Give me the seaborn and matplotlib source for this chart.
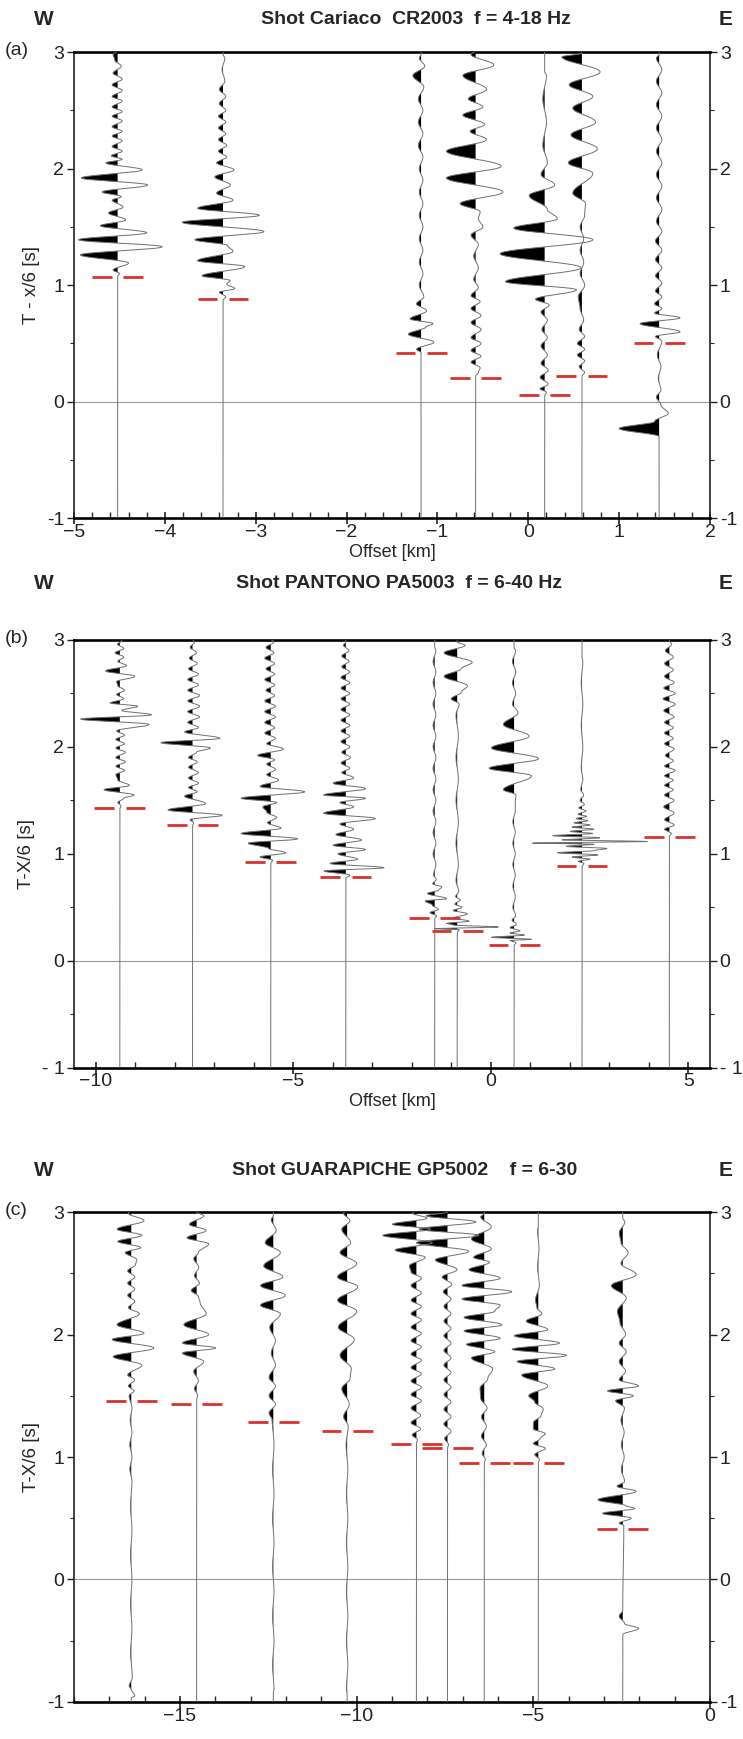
import numpy as np
import seaborn as sns
import matplotlib.pyplot as plt
from matplotlib.ticker import MultipleLocator, FixedLocator

# ---------------- data ----------------
# offsets (km), pick times (s), and lobe extrema (time s, amplitude km) per trace

offsets_a = [-4.52, -3.36, -1.18, -0.58, 0.18, 0.59, 1.44]
picks_a = [1.07, 0.88, 0.42, 0.20, 0.06, 0.22, 0.50]
traces_a = [
    [(1.10, 0.02), (1.13, -0.05), (1.19, 0.12), (1.26, -0.41), (1.33, 0.49), (1.39, -0.43), (1.45, 0.32),
     (1.51, -0.19), (1.56, 0.09), (1.62, -0.10), (1.67, 0.06), (1.73, -0.06), (1.76, 0.04), (1.80, -0.17),
     (1.86, 0.33), (1.92, -0.40), (1.99, 0.27), (2.05, -0.13), (2.08, 0.05), (2.11, -0.07), (2.15, 0.05),
     (2.19, -0.06), (2.24, 0.05), (2.28, -0.06), (2.32, 0.05), (2.36, -0.06), (2.41, 0.05), (2.45, -0.06),
     (2.49, 0.05), (2.53, -0.06), (2.58, 0.05), (2.62, -0.06), (2.67, 0.05), (2.72, -0.06), (2.77, 0.05),
     (2.82, -0.05), (2.88, 0.04), (2.93, -0.03), (2.98, -0.05)],
    [(0.90, 0.03), (0.94, -0.04), (0.97, 0.13), (1.01, 0.04), (1.04, 0.08), (1.08, -0.23), (1.16, 0.24),
     (1.21, -0.28), (1.29, 0.11), (1.34, 0.05), (1.39, -0.31), (1.46, 0.45), (1.54, -0.45), (1.60, 0.40),
     (1.66, -0.28), (1.73, 0.11), (1.79, -0.07), (1.86, 0.08), (1.93, -0.09), (1.99, 0.12), (2.05, -0.07),
     (2.10, 0.04), (2.15, -0.05), (2.20, 0.04), (2.25, -0.05), (2.30, 0.03), (2.35, -0.05), (2.40, 0.03),
     (2.45, -0.05), (2.50, 0.03), (2.56, -0.04), (2.62, 0.03), (2.68, -0.04), (2.75, 0.02), (2.85, -0.01),
     (2.95, 0.02)],
    [(0.45, -0.05), (0.51, 0.14), (0.58, -0.14), (0.64, 0.05), (0.67, 0.13), (0.71, -0.12), (0.78, 0.06),
     (0.84, -0.05), (0.90, 0.03), (1.0, -0.02), (1.1, 0.02), (1.2, -0.02), (1.3, 0.02), (1.4, -0.02),
     (1.5, 0.02), (1.6, -0.02), (1.7, 0.02), (1.8, -0.02), (1.9, 0.02), (2.0, -0.02), (2.1, 0.02),
     (2.2, -0.03), (2.3, 0.02), (2.4, -0.03), (2.5, 0.02), (2.6, -0.03), (2.7, 0.03), (2.80, -0.09),
     (2.88, 0.04), (2.95, -0.02)],
    [(0.25, 0.03), (0.29, 0.05), (0.34, -0.05), (0.39, 0.06), (0.44, -0.05), (0.50, 0.06), (0.55, -0.05),
     (0.62, 0.06), (0.68, -0.05), (0.74, 0.06), (0.80, -0.05), (0.86, 0.05), (0.91, -0.05), (0.98, 0.03),
     (1.05, -0.02), (1.15, 0.03), (1.25, -0.02), (1.35, 0.03), (1.43, -0.05), (1.50, 0.08), (1.57, 0.03),
     (1.63, 0.05), (1.70, -0.17), (1.80, 0.30), (1.92, -0.32), (2.02, 0.28), (2.15, -0.32), (2.25, 0.12),
     (2.32, -0.06), (2.38, 0.10), (2.46, -0.14), (2.53, 0.08), (2.60, -0.08), (2.68, 0.12), (2.80, -0.14),
     (2.89, 0.20), (2.98, -0.05)],
    [(0.08, 0.02), (0.11, -0.05), (0.15, 0.04), (0.21, -0.05), (0.27, 0.04), (0.33, -0.04), (0.40, 0.03),
     (0.48, -0.04), (0.55, 0.03), (0.62, -0.03), (0.70, 0.03), (0.77, -0.04), (0.83, 0.05), (0.88, -0.10),
     (0.96, 0.35), (1.03, -0.43), (1.15, 0.40), (1.27, -0.49), (1.39, 0.53), (1.49, -0.34), (1.57, 0.14),
     (1.65, 0.03), (1.77, -0.17), (1.86, 0.11), (1.95, -0.04), (2.05, 0.03), (2.2, -0.02), (2.4, 0.02),
     (2.6, -0.02), (2.8, 0.02)],
    [(0.25, 0.03), (0.30, -0.03), (0.35, 0.03), (0.40, -0.05), (0.45, 0.03), (0.50, -0.05), (0.56, 0.03),
     (0.62, -0.03), (0.70, 0.02), (0.80, -0.02), (0.90, -0.04), (1.0, 0.03), (1.1, -0.02), (1.2, 0.02),
     (1.3, -0.02), (1.4, 0.02), (1.5, -0.02), (1.6, 0.03), (1.70, 0.04), (1.79, -0.10), (1.96, 0.12),
     (2.05, -0.15), (2.17, 0.17), (2.29, -0.12), (2.40, 0.15), (2.52, -0.10), (2.62, 0.12), (2.72, -0.14),
     (2.83, 0.20), (2.96, -0.22)],
    [(-0.30, 0.0), (-0.23, -0.44), (-0.17, -0.05), (-0.10, 0.10), (-0.03, 0.02), (0.04, -0.03), (0.10, 0.02),
     (0.20, -0.01), (0.30, 0.02), (0.40, -0.02), (0.52, 0.03), (0.56, -0.04), (0.60, 0.23), (0.67, -0.21),
     (0.72, 0.23), (0.76, -0.05), (0.80, 0.03), (0.84, -0.05), (0.90, 0.03), (0.95, -0.04), (1.02, 0.03),
     (1.08, -0.04), (1.15, 0.03), (1.22, -0.04), (1.30, 0.03), (1.38, -0.04), (1.46, 0.03), (1.55, -0.03),
     (1.65, 0.03), (1.75, -0.03), (1.85, 0.03), (1.95, -0.03), (2.05, 0.03), (2.15, -0.03), (2.25, 0.03),
     (2.35, -0.03), (2.45, 0.03), (2.55, -0.03), (2.65, 0.03), (2.75, -0.03), (2.85, 0.03), (2.95, -0.03)],
]

offsets_b = [-9.39, -7.55, -5.57, -3.67, -1.42, -0.85, 0.59, 2.31, 4.52]
picks_b = [1.43, 1.27, 0.92, 0.78, 0.40, 0.28, 0.15, 0.89, 1.16]
traces_b = [
    [(1.45, 0.03), (1.48, -0.05), (1.52, 0.10), (1.55, 0.36), (1.60, -0.40), (1.64, 0.24), (1.69, -0.05),
     (1.74, -0.10), (1.78, 0.12), (1.82, -0.10), (1.86, 0.14), (1.90, -0.10), (1.95, 0.14), (1.99, -0.10),
     (2.03, 0.12), (2.07, -0.10), (2.11, 0.12), (2.15, -0.08), (2.21, 0.74), (2.26, -0.99), (2.30, 0.80),
     (2.34, 0.05), (2.38, 0.45), (2.41, -0.24), (2.45, 0.10), (2.49, -0.08), (2.53, 0.12), (2.57, -0.05),
     (2.61, -0.08), (2.66, 0.38), (2.71, -0.36), (2.76, 0.17), (2.80, -0.05), (2.84, 0.10), (2.88, -0.12),
     (2.92, 0.10), (2.96, -0.06), (2.99, 0.05)],
    [(1.29, 0.03), (1.32, -0.06), (1.36, 0.75), (1.41, -0.62), (1.47, 0.33), (1.54, -0.20), (1.58, 0.12),
     (1.62, -0.10), (1.66, 0.15), (1.71, -0.10), (1.76, 0.15), (1.81, -0.10), (1.86, 0.12), (1.90, -0.10),
     (1.95, 0.10), (1.99, 0.45), (2.04, -0.80), (2.08, 0.69), (2.14, -0.20), (2.18, 0.15), (2.23, -0.12),
     (2.28, 0.18), (2.33, -0.12), (2.38, 0.18), (2.43, -0.12), (2.48, 0.18), (2.53, -0.12), (2.58, 0.15),
     (2.63, -0.12), (2.68, 0.15), (2.73, -0.10), (2.78, 0.12), (2.83, -0.08), (2.88, 0.10), (2.93, -0.06),
     (2.98, 0.05)],
    [(0.94, 0.05), (0.97, -0.27), (1.01, 0.38), (1.05, -0.05), (1.10, -0.57), (1.14, 0.68), (1.19, -0.75),
     (1.24, 0.26), (1.29, -0.08), (1.34, 0.15), (1.39, -0.10), (1.44, -0.20), (1.48, 0.15), (1.52, -0.75),
     (1.58, 0.86), (1.63, -0.27), (1.69, 0.20), (1.74, -0.10), (1.79, 0.12), (1.84, -0.10), (1.88, 0.10),
     (1.92, -0.33), (1.98, 0.32), (2.03, -0.10), (2.08, 0.12), (2.13, -0.15), (2.18, 0.10), (2.23, -0.15),
     (2.28, 0.12), (2.33, -0.15), (2.38, 0.12), (2.43, -0.15), (2.48, 0.10), (2.53, -0.12), (2.58, 0.10),
     (2.63, -0.15), (2.68, 0.10), (2.73, -0.12), (2.78, 0.10), (2.83, -0.15), (2.88, 0.08), (2.93, -0.12),
     (2.98, 0.08)],
    [(0.80, 0.10), (0.84, -0.55), (0.87, 0.97), (0.91, -0.40), (0.95, 0.30), (1.00, -0.20), (1.04, 0.50),
     (1.08, -0.32), (1.13, 0.40), (1.18, -0.25), (1.23, 0.20), (1.28, -0.15), (1.33, 0.75), (1.38, -0.56),
     (1.44, 0.20), (1.48, -0.15), (1.52, 0.50), (1.55, -0.56), (1.61, 0.50), (1.66, -0.32), (1.71, 0.20),
     (1.76, -0.10), (1.80, 0.10), (1.85, -0.12), (1.90, 0.12), (1.95, -0.10), (2.00, 0.10), (2.05, -0.12),
     (2.10, 0.10), (2.15, -0.12), (2.20, 0.10), (2.25, -0.12), (2.30, 0.10), (2.35, -0.12), (2.40, 0.10),
     (2.45, -0.12), (2.50, 0.10), (2.55, -0.12), (2.60, 0.10), (2.65, -0.12), (2.70, 0.10), (2.75, -0.10),
     (2.80, 0.08), (2.85, -0.10), (2.90, 0.08), (2.95, -0.06)],
    [(0.42, 0.05), (0.45, -0.12), (0.48, 0.10), (0.52, -0.06), (0.56, -0.24), (0.58, 0.30), (0.63, -0.18),
     (0.66, 0.10), (0.69, 0.18), (0.72, -0.05), (0.76, 0.04), (0.80, -0.03), (0.9, 0.03), (1.0, -0.04),
     (1.1, 0.03), (1.2, -0.04), (1.3, 0.03), (1.4, -0.04), (1.5, 0.03), (1.6, -0.04), (1.7, 0.03),
     (1.8, -0.04), (1.9, 0.03), (2.0, -0.04), (2.1, 0.03), (2.2, -0.04), (2.3, 0.03), (2.4, -0.04),
     (2.5, 0.03), (2.6, -0.04), (2.7, 0.03), (2.8, -0.04), (2.9, 0.03)],
    [(0.29, 0.05), (0.30, -0.57), (0.315, 1.04), (0.335, -0.10), (0.35, -0.27), (0.37, 0.30), (0.40, -0.08),
     (0.44, 0.26), (0.47, -0.10), (0.50, 0.12), (0.53, -0.06), (0.57, 0.08), (0.60, -0.04), (0.65, 0.04),
     (0.75, -0.03), (0.9, 0.03), (1.1, -0.03), (1.3, 0.03), (1.5, -0.03), (1.7, 0.03), (1.9, -0.03),
     (2.1, 0.03), (2.3, -0.03), (2.40, 0.05), (2.45, -0.15), (2.51, 0.10), (2.57, 0.26), (2.66, -0.33),
     (2.73, 0.10), (2.79, 0.38), (2.88, -0.33), (2.95, 0.20)],
    [(0.17, 0.05), (0.19, -0.10), (0.20, 0.44), (0.22, -0.57), (0.24, 0.26), (0.26, -0.10), (0.28, 0.15),
     (0.31, -0.10), (0.34, 0.06), (0.38, -0.05), (0.42, 0.04), (0.5, -0.03), (0.6, 0.03), (0.7, -0.03),
     (0.8, 0.03), (0.9, -0.03), (1.0, 0.03), (1.1, -0.03), (1.2, 0.03), (1.3, -0.03), (1.4, 0.03),
     (1.50, 0.03), (1.55, 0.05), (1.60, -0.27), (1.73, 0.44), (1.80, -0.63), (1.89, 0.62), (1.99, -0.57),
     (2.10, 0.38), (2.21, -0.27), (2.32, 0.10), (2.4, -0.04), (2.5, 0.04), (2.6, -0.04), (2.7, 0.04),
     (2.8, -0.04), (2.9, 0.04)],
    [(0.91, 0.05), (0.93, -0.10), (0.95, 0.20), (0.97, -0.25), (0.99, 0.40), (1.01, -0.62), (1.03, 0.30),
     (1.05, 0.63), (1.07, -0.40), (1.09, 0.30), (1.10, -1.25), (1.115, 1.65), (1.13, -0.50), (1.15, 0.45),
     (1.17, -0.74), (1.19, 0.27), (1.21, -0.30), (1.23, 0.30), (1.25, -0.25), (1.27, 0.20), (1.29, -0.20),
     (1.31, 0.15), (1.33, -0.15), (1.35, 0.12), (1.37, -0.10), (1.40, 0.10), (1.43, -0.08), (1.46, 0.06),
     (1.50, -0.05), (1.55, 0.04), (1.60, -0.03), (1.7, 0.02), (1.8, -0.02), (2.0, 0.02), (2.2, -0.02),
     (2.4, 0.02), (2.6, -0.02), (2.8, 0.02)],
    [(1.19, 0.05), (1.23, -0.12), (1.27, 0.12), (1.32, -0.12), (1.38, 0.12), (1.44, -0.14), (1.50, 0.12),
     (1.55, -0.12), (1.60, 0.10), (1.64, -0.12), (1.69, 0.10), (1.73, -0.12), (1.78, 0.15), (1.82, -0.12),
     (1.87, 0.10), (1.92, -0.10), (1.98, 0.12), (2.03, -0.12), (2.08, 0.10), (2.13, -0.12), (2.18, 0.10),
     (2.23, -0.12), (2.28, 0.12), (2.34, -0.14), (2.40, 0.15), (2.45, -0.16), (2.50, 0.15), (2.55, -0.14),
     (2.60, 0.12), (2.66, -0.12), (2.72, 0.10), (2.78, -0.12), (2.84, 0.10), (2.90, -0.10), (2.96, 0.06)],
]

offsets_c = [-16.38, -14.53, -12.36, -10.27, -8.31, -7.43, -6.39, -4.86, -2.47]
picks_c = [1.46, 1.43, 1.29, 1.21, 1.11, 1.07, 0.95, 0.95, 0.41]
traces_c = [
    [(-0.97, 0.0), (-0.95, 0.10), (-0.90, 0.0), (-0.87, -0.06), (-0.8, 0.03), (-0.6, -0.02), (-0.4, 0.02),
     (-0.2, -0.02), (0.0, 0.02), (0.2, -0.02), (0.4, 0.02), (0.6, -0.02), (0.8, 0.02), (0.9, -0.04),
     (1.0, 0.02), (1.1, -0.04), (1.2, 0.02), (1.3, -0.03), (1.4, 0.02), (1.50, -0.06), (1.54, 0.08),
     (1.58, -0.08), (1.63, 0.10), (1.67, -0.10), (1.75, 0.30), (1.82, -0.51), (1.89, 0.64), (1.96, -0.54),
     (2.01, 0.36), (2.08, -0.40), (2.17, 0.23), (2.22, -0.08), (2.27, 0.10), (2.32, -0.10), (2.37, 0.10),
     (2.42, -0.10), (2.47, 0.10), (2.52, -0.10), (2.57, 0.12), (2.61, 0.16), (2.67, -0.17), (2.71, 0.27),
     (2.76, -0.38), (2.81, 0.30), (2.86, -0.40), (2.93, 0.36), (2.99, -0.08)],
    [(1.50, 0.03), (1.56, -0.06), (1.62, 0.05), (1.70, -0.08), (1.78, 0.20), (1.85, -0.40), (1.89, 0.54),
     (1.93, -0.40), (2.00, 0.34), (2.08, -0.36), (2.17, 0.27), (2.26, 0.10), (2.31, 0.05), (2.36, -0.15),
     (2.42, 0.08), (2.48, -0.06), (2.55, 0.06), (2.62, -0.08), (2.67, 0.05), (2.74, 0.34), (2.79, -0.27),
     (2.85, 0.27), (2.90, -0.20), (2.97, 0.20)],
    [(-0.9, 0.02), (-0.7, -0.02), (-0.5, 0.02), (-0.3, -0.02), (-0.1, 0.02), (0.1, -0.02), (0.3, 0.02),
     (0.5, -0.02), (0.7, 0.02), (0.9, -0.02), (1.1, 0.02), (1.30, -0.03), (1.36, -0.12), (1.43, 0.06),
     (1.50, -0.12), (1.58, 0.06), (1.65, -0.12), (1.75, 0.06), (1.85, -0.06), (1.95, 0.06), (2.06, -0.10),
     (2.17, 0.20), (2.24, -0.36), (2.32, 0.34), (2.40, -0.36), (2.47, 0.27), (2.56, -0.27), (2.67, 0.20),
     (2.75, -0.23), (2.85, 0.08), (2.94, -0.06)],
    [(-0.9, -0.02), (-0.7, 0.02), (-0.5, -0.02), (-0.3, 0.02), (-0.1, -0.02), (0.1, 0.02), (0.3, -0.02),
     (0.5, 0.02), (0.7, -0.02), (0.9, 0.02), (1.1, -0.03), (1.25, 0.03), (1.33, -0.10), (1.43, 0.06),
     (1.56, -0.15), (1.64, 0.08), (1.72, 0.12), (1.83, -0.20), (1.96, 0.20), (2.06, -0.25), (2.19, 0.27),
     (2.28, -0.27), (2.39, 0.30), (2.47, -0.27), (2.58, 0.27), (2.67, -0.20), (2.75, 0.10), (2.86, -0.15),
     (2.93, 0.08), (2.99, -0.10)],
    [(1.14, 0.03), (1.18, -0.12), (1.23, 0.12), (1.28, -0.15), (1.34, 0.12), (1.40, -0.15), (1.46, 0.14),
     (1.51, -0.15), (1.57, 0.14), (1.62, -0.15), (1.68, 0.14), (1.73, -0.15), (1.79, 0.14), (1.84, -0.15),
     (1.90, 0.14), (1.95, -0.15), (2.01, 0.14), (2.06, -0.15), (2.12, 0.14), (2.17, -0.15), (2.23, 0.14),
     (2.28, -0.15), (2.34, 0.14), (2.40, -0.15), (2.46, 0.14), (2.51, -0.15), (2.56, -0.20), (2.63, 0.25),
     (2.69, -0.60), (2.75, 0.45), (2.81, -0.95), (2.86, 0.40), (2.90, -0.68), (2.95, 0.30), (2.99, -0.10)],
    [(1.10, 0.03), (1.15, -0.08), (1.21, 0.10), (1.27, -0.10), (1.33, 0.10), (1.39, -0.10), (1.45, 0.10),
     (1.51, -0.10), (1.57, 0.10), (1.63, -0.10), (1.69, 0.10), (1.75, -0.10), (1.81, 0.10), (1.87, -0.10),
     (1.93, 0.10), (1.99, -0.10), (2.05, 0.10), (2.11, -0.10), (2.17, 0.10), (2.23, -0.10), (2.29, 0.10),
     (2.35, -0.12), (2.41, 0.12), (2.47, -0.15), (2.53, 0.27), (2.61, -0.34), (2.68, 0.60), (2.75, -0.88),
     (2.81, 0.88), (2.86, -0.80), (2.92, 0.80), (2.97, -0.60)],
    [(0.98, 0.03), (1.03, -0.06), (1.10, 0.06), (1.17, -0.08), (1.25, 0.06), (1.33, -0.08), (1.40, 0.08),
     (1.48, -0.10), (1.56, -0.12), (1.64, 0.10), (1.72, 0.24), (1.81, -0.36), (1.86, 0.30), (1.92, -0.50),
     (1.97, 0.45), (2.03, -0.57), (2.08, 0.50), (2.14, -0.57), (2.19, 0.30), (2.24, 0.45), (2.29, -0.63),
     (2.35, 0.78), (2.40, -0.63), (2.46, 0.45), (2.53, -0.43), (2.59, 0.15), (2.63, -0.30), (2.70, 0.20),
     (2.78, -0.36), (2.88, 0.20), (2.96, -0.10)],
    [(0.98, 0.03), (1.02, -0.10), (1.07, 0.20), (1.11, -0.14), (1.15, 0.05), (1.19, 0.20), (1.23, -0.14),
     (1.28, -0.14), (1.34, 0.08), (1.39, 0.14), (1.45, -0.10), (1.50, -0.27), (1.58, 0.27), (1.67, -0.47),
     (1.72, 0.47), (1.78, -0.60), (1.83, 0.80), (1.88, -0.74), (1.93, 0.60), (1.99, -0.68), (2.04, 0.27),
     (2.11, -0.34), (2.17, 0.10), (2.22, -0.04), (2.28, -0.08), (2.40, 0.03), (2.55, -0.02), (2.7, 0.02),
     (2.85, -0.02)],
    [(-0.45, 0.0), (-0.40, 0.45), (-0.36, 0.05), (-0.30, -0.10), (-0.25, 0.0), (0.44, 0.03), (0.46, -0.10),
     (0.50, 0.24), (0.54, -0.57), (0.58, 0.34), (0.60, 0.10), (0.65, -0.70), (0.72, 0.38), (0.76, -0.16),
     (0.80, 0.05), (0.90, -0.04), (1.00, 0.04), (1.10, -0.04), (1.20, 0.04), (1.30, -0.05), (1.40, 0.05),
     (1.46, -0.20), (1.50, 0.30), (1.54, -0.43), (1.58, 0.45), (1.63, -0.10), (1.70, 0.08), (1.78, -0.10),
     (1.86, 0.10), (1.93, -0.10), (2.00, 0.08), (2.10, -0.08), (2.19, -0.15), (2.30, 0.10), (2.40, -0.32),
     (2.49, 0.38), (2.58, -0.05), (2.67, 0.15), (2.75, -0.05), (2.83, -0.10), (2.92, 0.06)],
]

# ---------------- drawing ----------------
sns.set_theme(style="white")
plt.rcParams['font.family'] = ['Liberation Sans', 'DejaVu Sans']

t = np.linspace(-1, 3, 8001)


def trace_curve(knots):
    tk = np.array([k[0] for k in knots])
    ak = np.array([k[1] for k in knots])
    tk = np.concatenate([[tk[0] - 0.03], tk, [tk[-1] + 0.03]])
    ak = np.concatenate([[0.0], ak, [0.0]])
    amp = np.zeros_like(t)
    idx = np.searchsorted(tk, t) - 1
    ok = (idx >= 0) & (idx < len(tk) - 1)
    i = idx[ok]
    s = (t[ok] - tk[i]) / (tk[i + 1] - tk[i])
    amp[ok] = ak[i] + (ak[i + 1] - ak[i]) * (1 - np.cos(np.pi * s)) / 2
    return amp


def panel(ax, offsets, picks, traces, xlim, major, minor, ylabel, left_labels):
    ax.axhline(0, color='#999999', lw=0.8, zorder=1)
    for x0, knots in zip(offsets, traces):
        amp = trace_curve(knots)
        ax.fill_betweenx(t, x0, x0 + amp, where=amp < 0, interpolate=True, color='black', lw=0, zorder=2)
        sns.lineplot(x=x0 + amp, y=t, orient='y', sort=False, estimator=None,
                     color='#707070', lw=0.7, ax=ax, zorder=3)
    span = xlim[1] - xlim[0]
    gap, length = 0.009 * span, 0.031 * span
    for x0, p in zip(offsets, picks):
        ax.hlines([p, p], [x0 - gap - length, x0 + gap], [x0 - gap, x0 + gap + length],
                  color='#d8322b', lw=2.0, zorder=4)
    ax.set_xlim(*xlim)
    ax.set_ylim(-1, 3)
    ax.xaxis.set_major_locator(MultipleLocator(major))
    ax.xaxis.set_minor_locator(MultipleLocator(minor))
    ax.yaxis.set_major_locator(FixedLocator([-1, 0, 1, 2, 3]))
    ax.yaxis.set_minor_locator(FixedLocator([-0.5, 0.5, 1.5, 2.5]))
    ax.set_yticklabels(left_labels)
    for side in ['left', 'right']:
        ax.spines[side].set_visible(True)
        ax.spines[side].set_linewidth(1.2)
        ax.spines[side].set_color('#222222')
    for side in ['top', 'bottom']:
        ax.spines[side].set_linewidth(1.9)
        ax.spines[side].set_color('black')
    ax.tick_params(axis='x', which='major', direction='inout', length=8, width=1.2, labelsize=14,
                   bottom=True, pad=0, colors='#222222')
    ax.tick_params(axis='x', which='minor', direction='in', length=4, width=1.0, bottom=True)
    ax.tick_params(axis='y', which='major', direction='out', length=5, width=1.0, labelsize=14,
                   left=True, right=True, labelright=True, pad=2, colors='#222222')
    ax.tick_params(axis='y', which='minor', direction='out', length=3, width=0.8, left=True, right=True)
    ax.set_ylabel(ylabel, fontsize=13.5, labelpad=5)
    ax.set_xlabel('')


fig = plt.figure(figsize=(7.43, 17.39), dpi=100)
ax_a = fig.add_axes([0.0996, 0.702, 0.856, 0.268])
ax_b = fig.add_axes([0.0996, 0.386, 0.856, 0.246])
ax_c = fig.add_axes([0.0996, 0.0213, 0.856, 0.2817])

lab = ['-1', '0', '1', '2', '3']
panel(ax_a, offsets_a, picks_a, traces_a, (-5, 2), 1, 0.2, 'T - x/6 [s]', lab)
panel(ax_b, offsets_b, picks_b, traces_b, (-10.55, 5.55), 5, 1, 'T-X/6 [s]', ['- 1', '0', '1', '2', '3'])
panel(ax_c, offsets_c, picks_c, traces_c, (-18, 0), 5, 1, 'T-X/6 [s]', lab)
ax_a.set_xlabel('Offset [km]', fontsize=13, labelpad=2)
ax_b.set_xlabel('Offset [km]', fontsize=13, labelpad=2)

titles = [('Shot Cariaco  CR2003  f = 4-18 Hz', 0.9885, 0.560, 0.970, '(a)'),
          ('Shot PANTONO PA5003  f = 6-40 Hz', 0.6645, 0.537, 0.632, '(b)'),
          ('Shot GUARAPICHE GP5002    f = 6-30', 0.327, 0.545, 0.303, '(c)')]
for text, y, xc, ytop, tag in titles:
    fig.text(xc, y, text, ha='center', va='center', fontsize=14, fontweight='bold')
    fig.text(0.059, y, 'W', ha='center', va='center', fontsize=15, fontweight='bold')
    fig.text(0.977, y, 'E', ha='center', va='center', fontsize=15, fontweight='bold')
    fig.text(0.022, ytop + 0.001, tag, ha='center', va='center', fontsize=14)

fig.savefig('out.png', dpi=100)
